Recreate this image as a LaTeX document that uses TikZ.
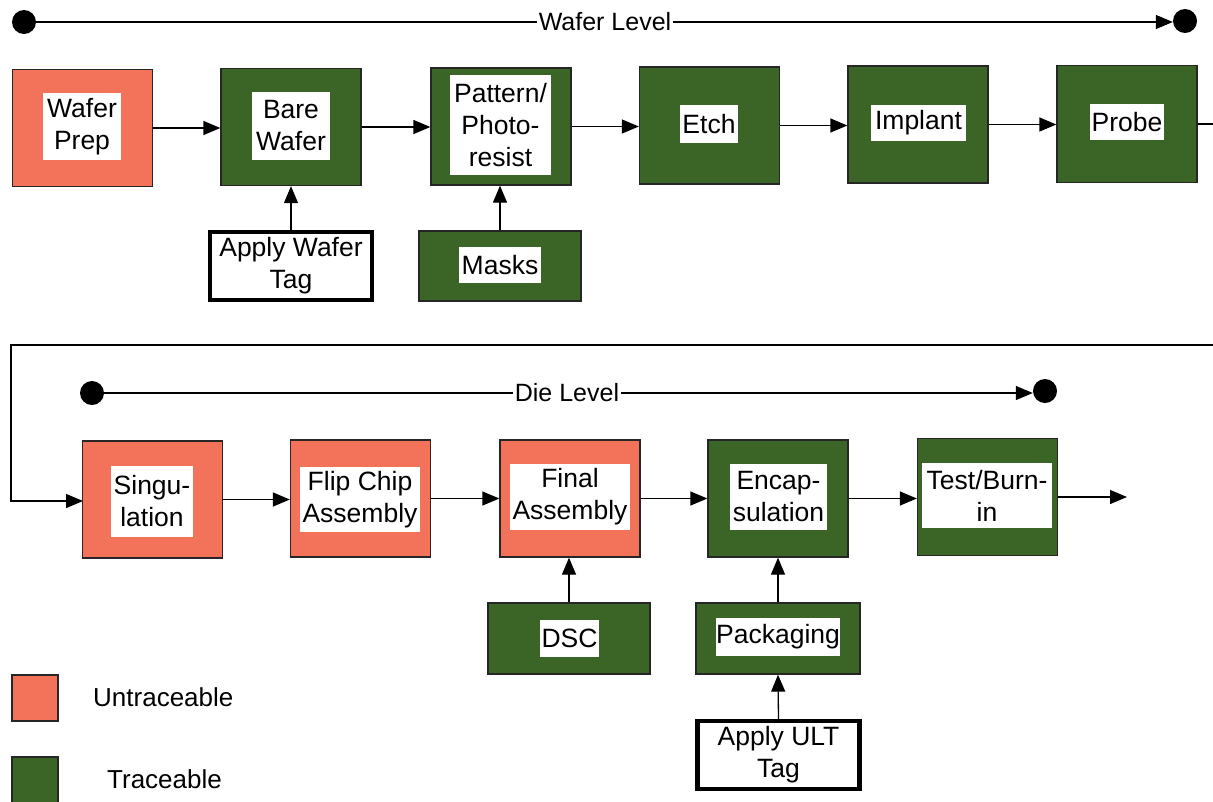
\documentclass[tikz,border=0pt]{standalone}
\usepackage{fontspec}
\setmainfont{Liberation Sans}
\usetikzlibrary{arrows.meta}
\definecolor{untr}{HTML}{F2735A}
\definecolor{trac}{HTML}{3A6526}
\tikzset{
  x=1pt,y=-1pt,
  base/.style={draw=black!85,line width=1.3pt,inner sep=0pt,minimum width=140pt,minimum height=117pt},
  ubox/.style={base,fill=untr},
  gbox/.style={base,fill=trac},
  wlab/.style={fill=white,inner sep=0pt,align=center,font=\fontsize{26.5}{32}\selectfont},
  tagbox/.style={draw=black,line width=4.5pt,fill=white,align=center,inner sep=0pt,minimum width=162pt,minimum height=68pt,font=\fontsize{26.5}{32}\selectfont},
  arr/.style={line width=1.3pt,-{Triangle[length=17pt,width=14pt]}},
  ln/.style={line width=1.3pt},
  dot/.style={circle,fill=black,minimum size=24pt,inner sep=0pt},
  lvl/.style={font=\fontsize{25}{30}\selectfont,inner sep=2pt},
  leg/.style={font=\fontsize{26}{30}\selectfont,inner sep=0pt,anchor=west},
}
\begin{document}
\begin{tikzpicture}
\useasboundingbox (0,0) rectangle (1213,801);
\clip (0,0) rectangle (1213,801);
% Wafer level
\node[dot] (wd1) at (24,22) {};
\node[dot] (wd2) at (1185,21) {};
\node[lvl] (wlv) at (605,22) {Wafer Level};
\draw[ln] (wd1) -- (wlv.west);
\draw[arr] (wlv.east) -- (wd2.west |- wlv.east);
% top row
\node[ubox] (wp) at (82.5,128) {};
\node[wlab,minimum width=78pt,minimum height=67pt] at (82,126.5) {Wafer\\Prep};
\node[gbox] (bw) at (291,127) {};
\node[wlab,minimum width=78pt,minimum height=68pt] at (291,126) {Bare\\Wafer};
\node[gbox] (pp) at (501,126.5) {};
\node[wlab,minimum width=101pt,minimum height=100pt] at (500.5,125) {Pattern/\\Photo-\\resist};
\node[gbox] (et) at (709.5,125.5) {};
\node[wlab,minimum width=58pt,minimum height=38pt] at (709,124) {Etch};
\node[gbox] (im) at (918,124.5) {};
\node[wlab,minimum width=95pt,minimum height=36pt] at (918.5,123) {Implant};
\node[gbox] (pr) at (1127,124) {};
\node[wlab,minimum width=74pt,minimum height=36pt] at (1127,122) {Probe};
\draw[arr] (wp.east) -- (wp.east -| bw.west);
\draw[arr] (bw.east) -- (bw.east -| pp.west);
\draw[arr] (pp.east) -- (pp.east -| et.west);
\draw[arr] (et.east) -- (et.east -| im.west);
\draw[arr] (im.east) -- (im.east -| pr.west);
\coordinate (prout) at (1213,124);
\draw[ln] (pr.east) -- (prout);
% top feeders
\node[tagbox] (awt) at (291,266) {Apply Wafer\\Tag};
\node[gbox,minimum width=162pt,minimum height=70pt] (mk) at (500,266) {};
\node[wlab,minimum width=82pt,minimum height=36pt] at (500,265) {Masks};
\draw[arr] (awt.north) -- (bw.south);
\draw[arr] (mk.north) -- (mk.north |- pp.south);
% wrap
\coordinate (wr) at (1213,345);
\coordinate (wl) at (11,345);
\draw[arr] (wr) -- (wl) |- (83,501);
% Die level
\node[dot] (dd1) at (92,393) {};
\node[dot] (dd2) at (1045,391) {};
\node[lvl] (dlv) at (567,393) {Die Level};
\draw[ln] (dd1) -- (dlv.west);
\draw[arr] (dlv.east) -- (dd2.west |- dlv.east);
% bottom row
\node[ubox] (sg) at (152.5,499.5) {};
\node[wlab,minimum width=82pt,minimum height=71pt] at (152,501.5) {Singu-\\lation};
\node[ubox] (fc) at (360.5,498.5) {};
\node[wlab,minimum width=120pt,minimum height=65pt] at (360,499.5) {Flip Chip\\Assembly};
\node[ubox] (fa) at (570,498.5) {};
\node[wlab,minimum width=120pt,minimum height=66pt] at (570,497) {Final\\Assembly};
\node[gbox] (en) at (778,498.5) {};
\node[wlab,minimum width=97pt,minimum height=66pt] at (778.5,497) {Encap-\\sulation};
\node[gbox] (tb) at (987.5,497) {};
\node[wlab,minimum width=130pt,minimum height=65pt] at (987,495.5) {Test/Burn-\\in};
\draw[arr] (sg.east) -- (sg.east -| fc.west);
\draw[arr] (fc.east) -- (fc.east -| fa.west);
\draw[arr] (fa.east) -- (fa.east -| en.west);
\draw[arr] (en.east) -- (en.east -| tb.west);
\coordinate (tbout) at (1127,497);
\draw[arr] (tb.east) -- (tbout);
% bottom feeders
\node[gbox,minimum width=162pt,minimum height=71pt] (dsc) at (569,638.5) {};
\node[wlab,minimum width=59pt,minimum height=37pt] at (569.5,638.5) {DSC};
\node[gbox,minimum width=164pt,minimum height=71pt] (pk) at (778,638.5) {};
\node[wlab,minimum width=123pt,minimum height=38pt] at (778,637) {Packaging};
\node[tagbox] (aut) at (778.5,755) {Apply ULT\\Tag};
\draw[arr] (dsc.north) -- (dsc.north |- fa.south);
\draw[arr] (pk.north) -- (pk.north |- en.south);
\draw[arr] (aut.north) -- (pk.south);
% legend
\node[ubox,minimum width=46pt,minimum height=46pt] (lu) at (35,698) {};
\node[gbox,minimum width=46pt,minimum height=46pt] (lt) at (35,780) {};
\node[leg] (lut) at (93,697) {Untraceable};
\node[leg] (ltt) at (107,779) {Traceable};
\end{tikzpicture}
\end{document}
